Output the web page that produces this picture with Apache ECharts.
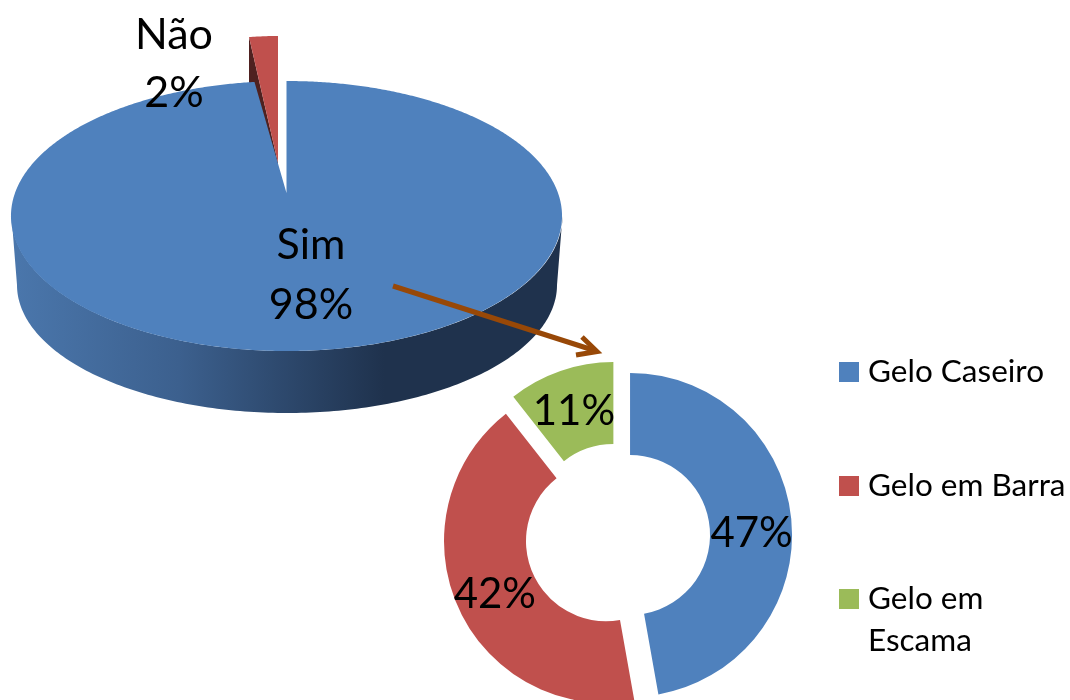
<!DOCTYPE html>
<html>
<head>
<meta charset="utf-8">
<style>html,body{margin:0;padding:0;background:#fff}#c{width:1070px;height:700px}</style>
<script src="https://cdn.jsdelivr.net/npm/echarts@6/dist/echarts.min.js"></script>
</head>
<body>
<div id="c"></div>
<script>
const mainNames = ['Sim', 'Não'];
const mainValues = [97.8, 2.2];
const iceNames = ['Gelo Caseiro', 'Gelo em Barra', 'Gelo em Escama'];
const iceValues = [47.2, 42.2, 10.6];

const FONT = 'Lato';
const BLUE = '#4F81BD', RED = '#C0504D', GREEN = '#9BBB59', DARKRED = '#4F2120', ARROW = '#984807';
const iceColors = [BLUE, RED, GREEN];
const iceLabelShift = [[-2, 9], [2, 3], [1, 5]];

const total = mainValues.reduce((a, b) => a + b, 0);
const rad = d => d * Math.PI / 180;

// perspective view of the flat disc
function rim(deg) {
  const u = Math.sin(rad(deg)), v = -Math.cos(rad(deg));
  const w = 1 - 0.1704 * v;
  return [286.5 + 271.5 * u / w, (193 + 98.2 * v) / w];
}

function labelEl(text, x, y) {
  return { type: 'text', z2: 10, x, y, style: { text, font: '43px ' + FONT, fill: '#000', align: 'center', verticalAlign: 'middle' } };
}

function renderMain(params, api) {
  const i = params.dataIndex;
  const share = api.value(0) / total;
  const sweep = share * 360;
  const pct = Math.round(share * 100) + '%';
  const children = [];
  if (i === 0) {
    const top = [[286.5, 193]];
    for (let a = 0; a <= sweep; a += 0.5) top.push(rim(a));
    top.push(rim(sweep));
    const wall = [];
    for (let a = 90; a <= 270; a += 1) wall.push([287 + 270 * Math.sin(rad(a)), 285 - 128 * Math.cos(rad(a))]);
    for (let a = 270; a >= 90; a -= 1) wall.push([287 + 275.5 * Math.sin(rad(a)), 216 - 135 * Math.cos(rad(a))]);
    children.push({
      type: 'polygon', z2: 3, shape: { points: wall },
      style: { fill: { type: 'linear', x: 17, y: 0, x2: 557, y2: 0, global: true, colorStops: [
        { offset: 0, color: '#4A76AB' }, { offset: 0.3, color: '#3C608E' }, { offset: 0.68, color: '#1F324D' }, { offset: 1, color: '#1F324D' }
      ] } }
    });
    children.push({ type: 'polygon', z2: 4, shape: { points: top }, style: { fill: BLUE } });
    children.push(labelEl(mainNames[0], 311, 245));
    children.push(labelEl(pct, 311, 305));
  } else {
    const ax = 278, ay = 163, sx = 222, sy = 127;
    const pts = [[ax, ay]];
    for (let a = 0; a <= sweep; a += 0.5) {
      pts.push([ax - sx * Math.sin(rad(a)), ay - sy * Math.cos(rad(a))]);
    }
    const corner = pts[pts.length - 1];
    children.push({
      type: 'polygon', z2: 1,
      shape: { points: [[ax, ay], corner, [corner[0], corner[1] + 60], [ax, ay + 60]] },
      style: { fill: DARKRED }
    });
    children.push({ type: 'polygon', z2: 2, shape: { points: pts }, style: { fill: RED } });
    children.push(labelEl(mainNames[1], 174, 35));
    children.push(labelEl(pct, 174, 93));
  }
  return { type: 'group', children };
}

const legendTop = [351, 465, 536];
const chart = echarts.init(document.getElementById('c'), null, { renderer: 'canvas' });
chart.setOption({
  backgroundColor: '#fff',
  animation: false,
  tooltip: { show: false },
  legend: iceNames.map((n, i) => ({
    data: [n],
    left: 839,
    top: legendTop[i],
    icon: 'rect',
    itemWidth: 20,
    itemHeight: 20,
    itemGap: 0,
    padding: 0,
    selectedMode: false,
    formatter: name => name === 'Gelo em Escama' ? '\nGelo em\nEscama' : name,
    textStyle: { fontFamily: FONT, fontSize: 31.5, color: '#000', lineHeight: 42, padding: [0, 0, 0, 4] }
  })),
  series: [
    {
      type: 'custom',
      coordinateSystem: 'none',
      silent: true,
      renderItem: renderMain,
      data: mainValues.map((v, i) => ({ name: mainNames[i], value: [v] }))
    },
    {
      type: 'pie',
      silent: true,
      center: [617.5, 536],
      radius: [80, 162],
      startAngle: 90,
      clockwise: true,
      selectedMode: 'multiple',
      selectedOffset: 12.6,
      avoidLabelOverlap: false,
      percentPrecision: 0,
      label: {
        show: true, position: 'inside', formatter: '{d}%', rotate: 0,
        fontFamily: FONT, fontSize: 42, color: '#000'
      },
      labelLine: { show: false },
      labelLayout: p => ({ dx: iceLabelShift[p.dataIndex][0], dy: iceLabelShift[p.dataIndex][1] }),
      data: iceValues.map((v, i) => ({
        name: iceNames[i], value: v, selected: true,
        itemStyle: { color: iceColors[i] },
        select: { itemStyle: { color: iceColors[i] } }
      }))
    }
  ],
  graphic: [
    { type: 'line', z: 20, shape: { x1: 393, y1: 286, x2: 596, y2: 351 }, style: { stroke: ARROW, lineWidth: 5 } },
    { type: 'polyline', z: 20, shape: { points: [[582, 337], [597, 351.5], [576, 355]] }, style: { stroke: ARROW, lineWidth: 5, fill: null } }
  ]
});
</script>
</body>
</html>
